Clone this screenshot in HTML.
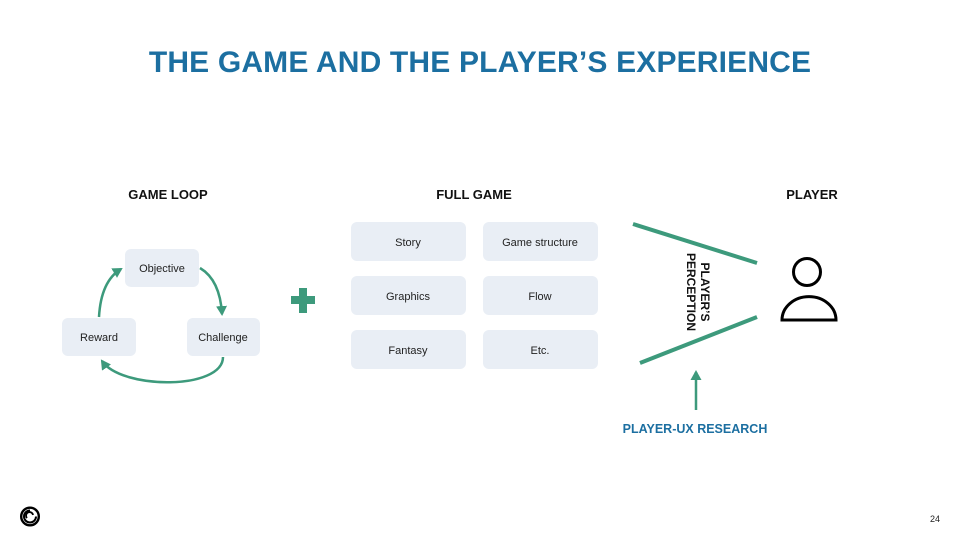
<!DOCTYPE html>
<html>
<head>
<meta charset="utf-8">
<style>
  html,body{margin:0;padding:0;background:#fff;}
  body{width:960px;height:540px;overflow:hidden;}
  svg{display:block;}
  text{font-family:"Liberation Sans",Arial,sans-serif;}
</style>
</head>
<body>
<svg width="960" height="540" viewBox="0 0 960 540" xmlns="http://www.w3.org/2000/svg">
  <defs>
    <marker id="ah" markerUnits="userSpaceOnUse" markerWidth="12" markerHeight="12" refX="8" refY="5.5" orient="auto">
      <path d="M0,0 L10,5.5 L0,11 Z" fill="#3d9a7c"/>
    </marker>
  </defs>
  <rect width="960" height="540" fill="#fff"/>

  <!-- Title -->
  <text x="480" y="72" text-anchor="middle" font-size="30" font-weight="bold" fill="#1c6fa1" letter-spacing="0.17">THE GAME AND THE PLAYER’S EXPERIENCE</text>

  <!-- Headings -->
  <text x="168" y="199" text-anchor="middle" font-size="13" font-weight="bold" fill="#111">GAME LOOP</text>
  <text x="474" y="199" text-anchor="middle" font-size="13" font-weight="bold" fill="#111">FULL GAME</text>
  <text x="812" y="199" text-anchor="middle" font-size="13" font-weight="bold" fill="#111">PLAYER</text>

  <!-- Game loop boxes -->
  <g fill="#e9eef5">
    <rect x="125" y="249" width="74" height="38" rx="6"/>
    <rect x="62" y="318" width="74" height="38" rx="6"/>
    <rect x="187" y="318" width="73" height="38" rx="6"/>
  </g>
  <g font-size="11" fill="#222" text-anchor="middle">
    <text x="162" y="272">Objective</text>
    <text x="99" y="341">Reward</text>
    <text x="223" y="341">Challenge</text>
  </g>

  <!-- Loop arrows -->
  <g fill="none" stroke="#3d9a7c" stroke-width="2.5">
    <path d="M99,317 Q101,281 121,269" marker-end="url(#ah)"/>
    <path d="M200,268 Q220,280 222,314" marker-end="url(#ah)"/>
    <path d="M223,357 C223,390 122,390 102,361" marker-end="url(#ah)"/>
  </g>

  <!-- Plus -->
  <g fill="#3d9a7c">
    <rect x="291" y="296" width="24" height="8"/>
    <rect x="299" y="288" width="8" height="25"/>
  </g>

  <!-- Full game boxes -->
  <g fill="#e9eef5">
    <rect x="351" y="222" width="115" height="39" rx="6"/>
    <rect x="483" y="222" width="115" height="39" rx="6"/>
    <rect x="351" y="276" width="115" height="39" rx="6"/>
    <rect x="483" y="276" width="115" height="39" rx="6"/>
    <rect x="351" y="330" width="115" height="39" rx="6"/>
    <rect x="483" y="330" width="115" height="39" rx="6"/>
  </g>
  <g font-size="11" fill="#222" text-anchor="middle">
    <text x="408" y="246">Story</text>
    <text x="540" y="246">Game structure</text>
    <text x="408" y="300">Graphics</text>
    <text x="540" y="300">Flow</text>
    <text x="408" y="354">Fantasy</text>
    <text x="540" y="354">Etc.</text>
  </g>

  <!-- Perception lines -->
  <g stroke="#3d9a7c" stroke-width="4" stroke-linecap="butt">
    <line x1="633" y1="224" x2="757" y2="263"/>
    <line x1="640" y1="363" x2="757" y2="317"/>
  </g>
  <g transform="translate(696,292) rotate(90)" font-size="12" font-weight="bold" fill="#111" text-anchor="middle">
    <text x="0" y="-5">PLAYER’S</text>
    <text x="0" y="9">PERCEPTION</text>
  </g>

  <!-- Research arrow -->
  <line x1="696" y1="410" x2="696" y2="372" stroke="#3d9a7c" stroke-width="2.5" marker-end="url(#ah)"/>
  <text x="695" y="433" text-anchor="middle" font-size="12.5" font-weight="bold" fill="#1c6fa1">PLAYER-UX RESEARCH</text>

  <!-- Person icon -->
  <g fill="none" stroke="#000" stroke-width="3">
    <circle cx="807" cy="272" r="13.5"/>
    <path d="M782,320 A26,22.5 0 0 1 836,320 Z"/>
  </g>

  <!-- Logo -->
  <g fill="none" stroke="#000">
    <circle cx="30" cy="516.5" r="8.8" stroke-width="2.4"/>
    <path d="M30,510.5 A6,6 0 1 0 36,516.5" stroke-width="2"/>
    <path d="M27,518 A3.5,3.5 0 1 1 33,515" stroke-width="1.8"/>
  </g>

  <!-- Page number -->
  <text x="935" y="522" text-anchor="middle" font-size="9" fill="#222">24</text>
</svg>
</body>
</html>
